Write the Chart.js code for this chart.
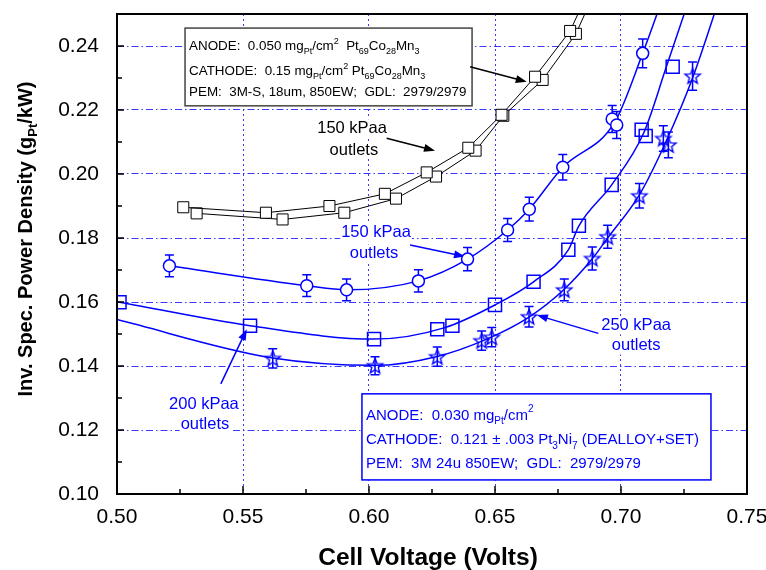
<!DOCTYPE html>
<html>
<head>
<meta charset="utf-8">
<script src="https://cdn.jsdelivr.net/npm/chart.js@4.4.0/dist/chart.umd.min.js"></script>
<style>
  html, body { margin: 0; padding: 0; background: #fff; }
</style>
</head>
<body>
<canvas id="chart" width="766" height="570"></canvas>
<script>
// Axis ticks
const xTicks = [0.50, 0.55, 0.60, 0.65, 0.70, 0.75];
const xMinor = [0.525, 0.575, 0.625, 0.675, 0.725];
const yTicks = [0.10, 0.12, 0.14, 0.16, 0.18, 0.20, 0.22, 0.24];
const yMinor = [0.11, 0.13, 0.15, 0.17, 0.19, 0.21, 0.23];

// 150 kPaa outlets, Pt69Co28Mn3 (two runs, black squares)
const coA_x = [0.5263, 0.5591, 0.5843, 0.6063, 0.6229, 0.6394, 0.6526, 0.6659, 0.6798, 0.6900];
const coA_y = [0.1896, 0.1879, 0.1900, 0.1938, 0.2005, 0.2082, 0.2185, 0.2304, 0.2447, 0.2620];
const coB_x = [0.5316, 0.5657, 0.5902, 0.6107, 0.6266, 0.6423, 0.6533, 0.6689, 0.6821, 0.6925];
const coB_y = [0.1877, 0.1858, 0.1879, 0.1923, 0.1992, 0.2073, 0.2182, 0.2294, 0.2438, 0.2620];

// Pt3Ni7, 150 kPaa outlets (circles)
const ni150_x   = [0.5208, 0.5753, 0.5911, 0.6196, 0.6391, 0.6550, 0.6636, 0.6769, 0.6965, 0.6983, 0.7086];
const ni150_y   = [0.1713, 0.1651, 0.1638, 0.1666, 0.1734, 0.1825, 0.1890, 0.2021, 0.2172, 0.2153, 0.2377];
const ni150_err = [0.0034, 0.0034, 0.0034, 0.0035, 0.0036, 0.0036, 0.0037, 0.0040, 0.0042, 0.0042, 0.0045];
const ni150Fit_x = [0.5208, 0.5753, 0.5911, 0.6196, 0.6391, 0.6550, 0.6636, 0.6769, 0.6975, 0.7086, 0.7197];
const ni150Fit_y = [0.1713, 0.1651, 0.1638, 0.1666, 0.1734, 0.1825, 0.1890, 0.2021, 0.2162, 0.2377, 0.2620];

// Pt3Ni7, 200 kPaa outlets (squares)
const ni200_x = [0.5010, 0.5528, 0.6020, 0.6271, 0.6331, 0.6500, 0.6653, 0.6791, 0.6833, 0.6963, 0.7082, 0.7098, 0.7205];
const ni200_y = [0.1599, 0.1526, 0.1484, 0.1515, 0.1526, 0.1591, 0.1663, 0.1763, 0.1838, 0.1966, 0.2138, 0.2119, 0.2335];
const ni200Fit_x = [0.5000, 0.5528, 0.6020, 0.6301, 0.6500, 0.6653, 0.6791, 0.6833, 0.6963, 0.7090, 0.7180, 0.7302];
const ni200Fit_y = [0.1601, 0.1526, 0.1484, 0.1520, 0.1591, 0.1663, 0.1763, 0.1838, 0.1966, 0.2128, 0.2335, 0.2620];

// Pt3Ni7, 250 kPaa outlets (stars)
const ni250_x   = [0.5618, 0.6024, 0.6271, 0.6447, 0.6487, 0.6635, 0.6775, 0.6886, 0.6947, 0.7073, 0.7168, 0.7188, 0.7284];
const ni250_y   = [0.1424, 0.1401, 0.1429, 0.1479, 0.1490, 0.1554, 0.1638, 0.1736, 0.1804, 0.1932, 0.2111, 0.2091, 0.2306];
const ni250_err = [0.0030, 0.0028, 0.0030, 0.0030, 0.0030, 0.0032, 0.0034, 0.0036, 0.0036, 0.0038, 0.0040, 0.0040, 0.0044];
const ni250Fit_x = [0.5000, 0.5618, 0.6024, 0.6271, 0.6467, 0.6635, 0.6775, 0.6886, 0.6947, 0.7073, 0.7178, 0.7284, 0.7420];
const ni250Fit_y = [0.1545, 0.1425, 0.1402, 0.1430, 0.1484, 0.1553, 0.1640, 0.1735, 0.1800, 0.1935, 0.2100, 0.2300, 0.2620];

const FONT = '"Liberation Sans", Arial, Helvetica, sans-serif';
const BLUE = '#0000ff';
const GRID = '#3a3aff';

const pts = (xs, ys) => xs.map((x, i) => ({x: x, y: ys[i]}));

// hollow five point star used as point style
function makeStar() {
    const c = document.createElement('canvas');
    c.width = 20; c.height = 20;
    const g = c.getContext('2d');
    g.beginPath();
    for (let i = 0; i < 10; i++) {
        const r = i % 2 ? 3.4 : 8;
        const a = -Math.PI / 2 + i * Math.PI / 5;
        const px = 10 + r * Math.cos(a), py = 10.6 + r * Math.sin(a);
        i ? g.lineTo(px, py) : g.moveTo(px, py);
    }
    g.closePath();
    g.strokeStyle = BLUE;
    g.lineWidth = 1.4;
    g.stroke();
    return c;
}
const starImg = makeStar();

// text with sub/superscripts: parts = ['text', ['Pt','sub'], ...]
function drawRich(ctx, parts, x, y, size, weight, align, color) {
    const seg = parts.map(p => typeof p === 'string' ? {t: p, m: ''} : {t: p[0], m: p[1]});
    const fontFor = m => weight + ' ' + (m ? Math.round(size * 0.66) : size) + 'px ' + FONT;
    let w = 0;
    seg.forEach(s => { ctx.font = fontFor(s.m); s.w = ctx.measureText(s.t).width; w += s.w; });
    let cx = align === 'center' ? x - w / 2 : x;
    ctx.textAlign = 'left';
    ctx.textBaseline = 'middle';
    ctx.fillStyle = color;
    seg.forEach(s => {
        ctx.font = fontFor(s.m);
        const dy = s.m === 'sub' ? size * 0.38 : (s.m === 'sup' ? -size * 0.4 : 0);
        ctx.fillText(s.t, cx, y + dy);
        cx += s.w;
    });
    return w;
}

function arrow(ctx, x0, y0, x1, y1, color) {
    const a = Math.atan2(y1 - y0, x1 - x0);
    const L = 11, W = 4;
    ctx.strokeStyle = color;
    ctx.fillStyle = color;
    ctx.lineWidth = 1.5;
    ctx.beginPath();
    ctx.moveTo(x0, y0);
    ctx.lineTo(x1 - L * 0.8 * Math.cos(a), y1 - L * 0.8 * Math.sin(a));
    ctx.stroke();
    ctx.beginPath();
    ctx.moveTo(x1, y1);
    ctx.lineTo(x1 - L * Math.cos(a) + W * Math.sin(a), y1 - L * Math.sin(a) - W * Math.cos(a));
    ctx.lineTo(x1 - L * Math.cos(a) - W * Math.sin(a), y1 - L * Math.sin(a) + W * Math.cos(a));
    ctx.closePath();
    ctx.fill();
}

// annotations (anchored in data units)
const notes = [
    {t: '150 kPaa', x: 0.5933, y: 0.2143, c: '#000'},
    {t: 'outlets',  x: 0.5940, y: 0.2075, c: '#000'},
    {t: '150 kPaa', x: 0.6028, y: 0.1816, c: BLUE},
    {t: 'outlets',  x: 0.6020, y: 0.1752, c: BLUE},
    {t: '200 kPaa', x: 0.5345, y: 0.1281, c: BLUE},
    {t: 'outlets',  x: 0.5349, y: 0.1216, c: BLUE},
    {t: '250 kPaa', x: 0.7060, y: 0.1527, c: BLUE},
    {t: 'outlets',  x: 0.7060, y: 0.1464, c: BLUE}
];
const arrows = [
    {from: [0.6401, 0.2335], to: [0.6626, 0.2288], c: '#000'},
    {from: [0.6070, 0.2112], to: [0.6262, 0.2073], c: '#000'},
    {from: [0.6163, 0.1778], to: [0.6381, 0.1742], c: BLUE},
    {from: [0.5412, 0.1344], to: [0.5515, 0.1515], c: BLUE},
    {from: [0.6910, 0.1502], to: [0.6666, 0.1559], c: BLUE}
];
const boxes = [
    {x0: 0.5270, y0: 0.2456, x1: 0.6409, y1: 0.2213, border: '#444', c: '#000', size: 13.4, lines: [
        {dy: 18.7, parts: ['ANODE:  0.050 mg', ['Pt', 'sub'], '/cm', ['2', 'sup'], '  Pt', ['69', 'sub'], 'Co', ['28', 'sub'], 'Mn', ['3', 'sub']]},
        {dy: 43.3, parts: ['CATHODE:  0.15 mg', ['Pt', 'sub'], '/cm', ['2', 'sup'], ' Pt', ['69', 'sub'], 'Co', ['28', 'sub'], 'Mn', ['3', 'sub']]},
        {dy: 64.5, parts: ['PEM:  3M-S, 18um, 850EW;  GDL:  2979/2979']}
    ]},
    {x0: 0.5972, y0: 0.1313, x1: 0.7357, y1: 0.1044, border: BLUE, c: BLUE, size: 15, lines: [
        {dy: 21.8, parts: ['ANODE:  0.030 mg', ['Pt', 'sub'], '/cm', ['2', 'sup']]},
        {dy: 46.5, parts: ['CATHODE:  0.121 \u00b1 .003 Pt', ['3', 'sub'], 'Ni', ['7', 'sub'], ' (DEALLOY+SET)']},
        {dy: 69.8, parts: ['PEM:  3M 24u 850EW;  GDL:  2979/2979']}
    ]}
];

const decorations = {
    id: 'decorations',
    beforeDatasetsDraw(chart) {
        const ctx = chart.ctx, xs = chart.scales.x, ys = chart.scales.y;
        ctx.save();
        // boxes
        boxes.forEach(b => {
            const l = xs.getPixelForValue(b.x0), t = ys.getPixelForValue(b.y0);
            const r = xs.getPixelForValue(b.x1), btm = ys.getPixelForValue(b.y1);
            ctx.fillStyle = '#fff';
            ctx.fillRect(l, t, r - l, btm - t);
            ctx.strokeStyle = b.border;
            ctx.lineWidth = 1.5;
            ctx.strokeRect(l, t, r - l, btm - t);
            b.lines.forEach(ln => drawRich(ctx, ln.parts, l + 4, t + ln.dy, b.size, 'normal', 'left', b.c));
        });
        // labels with white backing
        notes.forEach(n => {
            const px = xs.getPixelForValue(n.x), py = ys.getPixelForValue(n.y);
            ctx.font = '16.5px ' + FONT;
            const w = ctx.measureText(n.t).width;
            ctx.fillStyle = '#fff';
            ctx.fillRect(px - w / 2 - 1, py - 9, w + 2, 18);
            drawRich(ctx, [n.t], px, py, 16.5, 'normal', 'center', n.c);
        });
        arrows.forEach(a => arrow(ctx,
            xs.getPixelForValue(a.from[0]), ys.getPixelForValue(a.from[1]),
            xs.getPixelForValue(a.to[0]), ys.getPixelForValue(a.to[1]), a.c));
        // error bars
        ctx.beginPath();
        ctx.rect(chart.chartArea.left, chart.chartArea.top, chart.chartArea.width, chart.chartArea.height);
        ctx.clip();
        chart.data.datasets.forEach(ds => {
            if (!ds.errors) return;
            ctx.strokeStyle = BLUE;
            ctx.lineWidth = 1.5;
            ds.data.forEach((p, i) => {
                const px = xs.getPixelForValue(p.x);
                const top = ys.getPixelForValue(p.y + ds.errors[i]);
                const bot = ys.getPixelForValue(p.y - ds.errors[i]);
                ctx.beginPath();
                ctx.moveTo(px, top); ctx.lineTo(px, bot);
                ctx.moveTo(px - 4.5, top); ctx.lineTo(px + 4.5, top);
                ctx.moveTo(px - 4.5, bot); ctx.lineTo(px + 4.5, bot);
                ctx.stroke();
            });
        });
        ctx.restore();
    },
    afterDraw(chart) {
        const ctx = chart.ctx, xs = chart.scales.x, ys = chart.scales.y;
        const a = chart.chartArea;
        ctx.save();
        ctx.strokeStyle = '#000';
        ctx.lineWidth = 2;
        ctx.strokeRect(a.left, a.top, a.right - a.left, a.bottom - a.top);
        ctx.lineWidth = 1.5;
        ctx.beginPath();
        xTicks.forEach(v => { const p = xs.getPixelForValue(v); ctx.moveTo(p, a.bottom); ctx.lineTo(p, a.bottom - 8); });
        xMinor.forEach(v => { const p = xs.getPixelForValue(v); ctx.moveTo(p, a.bottom); ctx.lineTo(p, a.bottom - 5); });
        yTicks.forEach(v => { const p = ys.getPixelForValue(v); ctx.moveTo(a.left, p); ctx.lineTo(a.left + 7, p); });
        yMinor.forEach(v => { const p = ys.getPixelForValue(v); ctx.moveTo(a.left, p); ctx.lineTo(a.left + 5, p); });
        ctx.stroke();
        // axis titles
        drawRich(ctx, ['Cell Voltage (Volts)'], (a.left + a.right) / 2 - 4, 558, 24.5, 'bold', 'center', '#000');
        ctx.translate(26, 239);
        ctx.rotate(-Math.PI / 2);
        drawRich(ctx, ['Inv. Spec. Power Density (g', ['Pt', 'sub'], '/kW)'], 0, 0, 20, 'bold', 'center', '#000');
        ctx.restore();
    }
};

const ctx = document.getElementById('chart').getContext('2d');
const chart = new Chart(ctx, {
    type: 'scatter',
    data: {
        datasets: [
            {label: 'Pt3Ni7 250 kPaa', data: pts(ni250_x, ni250_y), errors: ni250_err, showLine: false,
             pointStyle: starImg, pointRadius: 8},
            {label: 'Pt3Ni7 200 kPaa', data: pts(ni200_x, ni200_y), showLine: false,
             pointStyle: 'rect', pointRadius: 9.2, borderColor: BLUE, borderWidth: 1.5, backgroundColor: 'rgba(0,0,0,0)'},
            {label: 'Pt3Ni7 150 kPaa', data: pts(ni150_x, ni150_y), errors: ni150_err, showLine: false,
             pointStyle: 'circle', pointRadius: 6, borderColor: BLUE, borderWidth: 1.5, backgroundColor: '#fff'},
            {label: 'fit 250', data: pts(ni250Fit_x, ni250Fit_y), showLine: true, pointRadius: 0,
             borderColor: BLUE, borderWidth: 1.5, cubicInterpolationMode: 'monotone'},
            {label: 'fit 200', data: pts(ni200Fit_x, ni200Fit_y), showLine: true, pointRadius: 0,
             borderColor: BLUE, borderWidth: 1.5, cubicInterpolationMode: 'monotone'},
            {label: 'fit 150', data: pts(ni150Fit_x, ni150Fit_y), showLine: true, pointRadius: 0,
             borderColor: BLUE, borderWidth: 1.5, cubicInterpolationMode: 'monotone'},
            {label: 'PtCoMn A', data: pts(coA_x, coA_y), showLine: true, borderColor: '#000', borderWidth: 1,
             pointStyle: 'rect', pointRadius: 7.8, pointBorderWidth: 1, pointBackgroundColor: '#fff', pointBorderColor: '#000'},
            {label: 'PtCoMn B', data: pts(coB_x, coB_y), showLine: true, borderColor: '#000', borderWidth: 1,
             pointStyle: 'rect', pointRadius: 7.8, pointBorderWidth: 1, pointBackgroundColor: '#fff', pointBorderColor: '#000'}
        ]
    },
    options: {
        responsive: false,
        devicePixelRatio: 1,
        animation: false,
        layout: {padding: {left: 0, right: 19, top: 14, bottom: 0}},
        plugins: {legend: {display: false}, tooltip: {enabled: false}},
        scales: {
            x: {
                type: 'linear', min: 0.5, max: 0.75,
                afterBuildTicks: s => { s.ticks = xTicks.map(v => ({value: v})); },
                afterFit: s => { s.height = 76; s.paddingLeft = 0; s.paddingRight = 0; },
                grid: {color: GRID, lineWidth: 1, drawTicks: false},
                border: {display: false, dash: [2, 3]},
                ticks: {padding: 11, color: '#000', autoSkip: false, maxRotation: 0,
                        font: {family: FONT, size: 21}, callback: v => v.toFixed(2)}
            },
            y: {
                type: 'linear', min: 0.10, max: 0.25,
                afterBuildTicks: s => { s.ticks = yTicks.map(v => ({value: v})); },
                afterFit: s => { s.width = 117; s.paddingTop = 0; s.paddingBottom = 0; },
                grid: {color: GRID, lineWidth: 1, drawTicks: false},
                border: {display: false, dash: [7, 3, 1.5, 3]},
                ticks: {padding: 18, color: '#000', autoSkip: false,
                        font: {family: FONT, size: 21}, callback: v => v.toFixed(2)}
            }
        }
    },
    plugins: [decorations]
});
</script>
</body>
</html>
